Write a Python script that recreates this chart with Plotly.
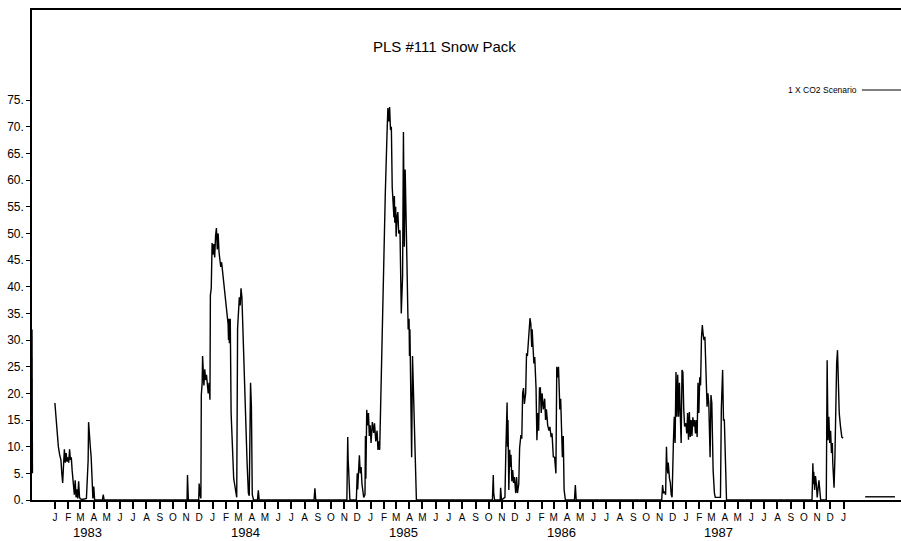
import plotly.graph_objects as go

# ---------------- data ----------------
lead_1982 = [("1982-11-09", 32), ("1982-11-10", 5), ("1982-12-15", None)]

season_1983 = [
    ("1983-01-01", 18.2), ("1983-01-03", 15.6), ("1983-01-06", 12.6), ("1983-01-09", 10),
    ("1983-01-12", 8.5), ("1983-01-15", 7.5), ("1983-01-17", 5), ("1983-01-19", 3.2),
    ("1983-01-21", 6.5), ("1983-01-23", 9.5), ("1983-01-25", 7), ("1983-01-27", 8.8),
    ("1983-01-29", 7.2), ("1983-01-31", 8), ("1983-02-02", 7), ("1983-02-04", 9.5),
    ("1983-02-06", 7.5), ("1983-02-08", 8), ("1983-02-10", 5.5), ("1983-02-13", 3),
    ("1983-02-15", 1), ("1983-02-17", 3.7), ("1983-02-19", 0.5), ("1983-02-21", 2),
    ("1983-02-23", 0.3), ("1983-02-25", 3.5), ("1983-02-27", 0.5), ("1983-03-01", 0.2),
    ("1983-03-06", 0.1), ("1983-03-15", 0.3), ("1983-03-17", 4.5), ("1983-03-19", 7.5),
    ("1983-03-20", 14.6), ("1983-03-22", 13), ("1983-03-24", 10), ("1983-03-26", 8),
    ("1983-03-28", 3), ("1983-03-30", 0.3), ("1983-04-01", 2.5), ("1983-04-03", 0),
    ("1983-04-21", 0), ("1983-04-23", 1), ("1983-04-25", 0), ("1983-10-31", 0),
]

season_1984 = [
    ("1983-11-03", 0), ("1983-11-04", 4.7), ("1983-11-05", 1), ("1983-11-06", 0),
    ("1983-11-30", 0), ("1983-12-01", 3.1), ("1983-12-03", 1), ("1983-12-05", 0.3),
    ("1983-12-06", 19.7), ("1983-12-08", 22), ("1983-12-09", 27), ("1983-12-10", 24),
    ("1983-12-12", 21.5), ("1983-12-14", 24.5), ("1983-12-16", 22.5), ("1983-12-18", 23.5),
    ("1983-12-20", 21), ("1983-12-22", 20), ("1983-12-24", 22), ("1983-12-26", 18.8),
    ("1983-12-27", 38.4), ("1983-12-29", 39.7), ("1983-12-31", 48.2), ("1984-01-02", 46),
    ("1984-01-04", 48), ("1984-01-06", 45.5), ("1984-01-08", 49.5), ("1984-01-10", 51),
    ("1984-01-12", 47), ("1984-01-14", 50), ("1984-01-16", 46.5), ("1984-01-18", 45),
    ("1984-01-20", 43.7), ("1984-01-22", 44.6), ("1984-01-25", 42), ("1984-01-28", 40),
    ("1984-01-31", 38), ("1984-02-02", 36), ("1984-02-04", 34.3), ("1984-02-06", 33),
    ("1984-02-07", 30), ("1984-02-08", 34), ("1984-02-09", 29.4), ("1984-02-10", 32),
    ("1984-02-11", 34), ("1984-02-13", 16.3), ("1984-02-15", 12), ("1984-02-17", 7),
    ("1984-02-19", 4), ("1984-02-21", 3), ("1984-02-24", 1.3), ("1984-02-26", 0.5),
    ("1984-02-28", 32.2), ("1984-03-01", 35), ("1984-03-03", 38), ("1984-03-05", 36.5),
    ("1984-03-07", 39.7), ("1984-03-09", 38), ("1984-03-11", 33), ("1984-03-13", 28),
    ("1984-03-15", 23), ("1984-03-19", 8.8), ("1984-03-21", 7), ("1984-03-24", 1.3),
    ("1984-03-26", 0.8), ("1984-03-29", 22), ("1984-03-30", 19), ("1984-03-31", 17.5),
    ("1984-04-02", 1), ("1984-04-05", 0), ("1984-04-14", 0), ("1984-04-16", 1.8),
    ("1984-04-18", 0), ("1984-08-23", 0), ("1984-08-25", 2.2), ("1984-08-27", 0),
    ("1984-11-07", 0),
]

season_1985 = [
    ("1984-11-09", 11.8), ("1984-11-10", 7.5), ("1984-11-11", 6), ("1984-11-12", 2),
    ("1984-11-14", 0), ("1984-11-29", 0), ("1984-12-01", 5), ("1984-12-02", 2),
    ("1984-12-04", 5), ("1984-12-06", 8.4), ("1984-12-08", 5), ("1984-12-10", 6.2),
    ("1984-12-12", 3), ("1984-12-14", 2), ("1984-12-16", 0.5), ("1984-12-19", 1),
    ("1984-12-20", 12), ("1984-12-21", 4), ("1984-12-23", 16.9), ("1984-12-25", 14),
    ("1984-12-27", 16.3), ("1984-12-29", 12), ("1984-12-31", 14), ("1985-01-02", 10.7),
    ("1985-01-05", 14.6), ("1985-01-08", 12.6), ("1985-01-10", 14.4), ("1985-01-13", 11),
    ("1985-01-16", 13), ("1985-01-18", 9.4), ("1985-01-20", 11), ("1985-01-22", 9.4),
    ("1985-01-24", 17.2), ("1985-01-27", 33), ("1985-01-31", 46.3), ("1985-02-04", 57.5),
    ("1985-02-08", 68.8), ("1985-02-10", 73.5), ("1985-02-12", 71), ("1985-02-14", 73.7),
    ("1985-02-16", 69.4), ("1985-02-18", 70), ("1985-02-20", 58.7), ("1985-02-22", 56),
    ("1985-02-24", 53), ("1985-02-25", 57), ("1985-02-26", 52), ("1985-02-28", 55),
    ("1985-03-01", 49.4), ("1985-03-03", 53), ("1985-03-05", 54), ("1985-03-07", 50),
    ("1985-03-10", 50.6), ("1985-03-13", 35), ("1985-03-16", 42), ("1985-03-18", 69),
    ("1985-03-19", 55), ("1985-03-20", 47.5), ("1985-03-22", 62), ("1985-03-24", 47.5),
    ("1985-03-26", 45), ("1985-03-28", 36), ("1985-03-29", 32), ("1985-03-31", 34),
    ("1985-04-01", 27), ("1985-04-02", 32), ("1985-04-04", 20), ("1985-04-06", 8),
    ("1985-04-08", 27), ("1985-04-11", 18), ("1985-04-13", 12), ("1985-04-15", 5),
    ("1985-04-17", 0), ("1985-10-10", 0),
]

season_1986 = [
    ("1985-10-12", 4.7), ("1985-10-13", 1.3), ("1985-10-15", 0), ("1985-10-28", 0),
    ("1985-10-29", 2.3), ("1985-10-31", 0), ("1985-11-08", 0.5), ("1985-11-10", 8.8),
    ("1985-11-11", 11), ("1985-11-13", 18.3), ("1985-11-14", 10), ("1985-11-15", 15),
    ("1985-11-17", 1.9), ("1985-11-19", 9.4), ("1985-11-20", 6.2), ("1985-11-22", 8.5),
    ("1985-11-24", 3.5), ("1985-11-26", 5.6), ("1985-11-28", 3.2), ("1985-11-30", 4.3),
    ("1985-12-03", 1.3), ("1985-12-05", 4.3), ("1985-12-07", 1.3), ("1985-12-10", 3),
    ("1985-12-12", 9.8), ("1985-12-15", 12.2), ("1985-12-17", 11.5), ("1985-12-19", 20),
    ("1985-12-21", 21), ("1985-12-23", 18), ("1985-12-26", 20), ("1985-12-28", 27.5),
    ("1985-12-30", 27), ("1986-01-01", 29.4), ("1986-01-03", 31), ("1986-01-05", 34.1),
    ("1986-01-07", 33), ("1986-01-09", 28.7), ("1986-01-10", 32), ("1986-01-12", 28.7),
    ("1986-01-14", 25.6), ("1986-01-16", 26.8), ("1986-01-19", 21), ("1986-01-21", 11.2),
    ("1986-01-23", 16.3), ("1986-01-25", 13), ("1986-01-27", 21), ("1986-01-29", 21),
    ("1986-01-31", 16.3), ("1986-02-02", 20), ("1986-02-05", 17), ("1986-02-08", 19),
    ("1986-02-10", 15), ("1986-02-12", 17), ("1986-02-15", 14), ("1986-02-18", 13),
    ("1986-02-20", 13.7), ("1986-02-23", 11.8), ("1986-02-25", 12.5), ("1986-02-28", 8.1),
    ("1986-03-03", 8), ("1986-03-06", 5), ("1986-03-08", 25), ("1986-03-10", 23),
    ("1986-03-12", 25), ("1986-03-14", 20), ("1986-03-15", 17), ("1986-03-17", 19),
    ("1986-03-19", 12), ("1986-03-21", 8), ("1986-03-23", 12), ("1986-03-25", 1.9),
    ("1986-03-28", 0), ("1986-04-18", 0), ("1986-04-20", 2.8), ("1986-04-22", 0),
    ("1986-11-06", 0),
]

season_1987 = [
    ("1986-11-08", 2.8), ("1986-11-10", 1.3), ("1986-11-13", 1.5), ("1986-11-15", 1),
    ("1986-11-17", 10), ("1986-11-18", 7), ("1986-11-20", 5), ("1986-11-21", 7),
    ("1986-11-24", 4), ("1986-11-26", 3.2), ("1986-11-28", 1), ("1986-11-30", 0.5),
    ("1986-12-03", 10.7), ("1986-12-05", 15.6), ("1986-12-07", 10.7), ("1986-12-09", 24),
    ("1986-12-11", 15.6), ("1986-12-13", 23.5), ("1986-12-15", 15.6), ("1986-12-17", 22),
    ("1986-12-19", 16), ("1986-12-21", 10.7), ("1986-12-23", 24.4), ("1986-12-25", 24),
    ("1986-12-27", 17), ("1986-12-29", 13.8), ("1987-01-01", 14.4), ("1987-01-03", 12.5),
    ("1987-01-05", 16.3), ("1987-01-07", 11.3), ("1987-01-09", 16.5), ("1987-01-11", 11.8),
    ("1987-01-13", 15), ("1987-01-15", 12), ("1987-01-17", 15.5), ("1987-01-19", 13.8),
    ("1987-01-21", 15), ("1987-01-23", 12.5), ("1987-01-25", 15), ("1987-01-27", 11.8),
    ("1987-01-29", 22), ("1987-01-31", 16.3), ("1987-02-02", 23), ("1987-02-04", 21.5),
    ("1987-02-06", 30.4), ("1987-02-08", 32.8), ("1987-02-10", 31), ("1987-02-12", 30),
    ("1987-02-14", 30.6), ("1987-02-16", 23.8), ("1987-02-19", 17.5), ("1987-02-21", 20),
    ("1987-02-23", 18), ("1987-02-26", 8), ("1987-02-28", 19.7), ("1987-03-02", 18.2),
    ("1987-03-05", 5.6), ("1987-03-08", 1.3), ("1987-03-10", 0.5), ("1987-03-22", 0.5),
    ("1987-03-24", 17), ("1987-03-27", 24.4), ("1987-03-29", 15), ("1987-03-31", 15),
    ("1987-04-03", 2.5), ("1987-04-05", 0), ("1987-10-20", 0),
]

season_1988 = [
    ("1987-10-22", 6.9), ("1987-10-23", 3), ("1987-10-24", 5.3), ("1987-10-26", 1.9),
    ("1987-10-28", 4.5), ("1987-10-30", 3), ("1987-11-01", 0.5), ("1987-11-05", 3.7),
    ("1987-11-07", 1.3), ("1987-11-09", 0), ("1987-11-22", 0), ("1987-11-24", 26.2),
    ("1987-11-26", 11.2), ("1987-11-28", 15.6), ("1987-11-30", 10.7), ("1987-12-02", 13),
    ("1987-12-04", 8.8), ("1987-12-06", 10.7), ("1987-12-07", 7), ("1987-12-09", 5),
    ("1987-12-10", 2.3), ("1987-12-12", 8), ("1987-12-14", 23), ("1987-12-16", 25.6),
    ("1987-12-18", 28.1), ("1987-12-20", 20.6), ("1987-12-22", 16.3), ("1987-12-25", 13.7),
    ("1987-12-28", 11.8), ("1987-12-31", 11.6), ("1988-01-20", None),
]

tail_1988 = [("1988-02-20", 0.6), ("1988-04-29", 0.6)]

month_letters = ["J", "F", "M", "A", "M", "J", "J", "A", "S", "O", "N", "D"]
years = [1983, 1984, 1985, 1986, 1987, 1988]
year_labels = ["1983", "1984", "1985", "1986", "1987"]
y_ticks = [0, 5, 10, 15, 20, 25, 30, 35, 40, 45, 50, 55, 60, 65, 70, 75]
series_name = "1 X CO2 Scenario"
title_text = "PLS #111 Snow Pack"

# ---------------- build ----------------
records = lead_1982 + season_1983 + season_1984 + season_1985 + season_1986 + season_1987 + season_1988 + tail_1988
dates = [r[0] for r in records]
snow = [r[1] for r in records]

tickvals, ticktext = [], []
for yr in years:
    for m in range(12):
        if yr == 1988 and m > 0:
            break
        tickvals.append(f"{yr}-{m + 1:02d}-01")
        ticktext.append(month_letters[m])

FONT = "Liberation Sans, Arial, Helvetica, sans-serif"

fig = go.Figure()
fig.add_trace(go.Scatter(
    x=dates, y=snow, mode="lines", name=series_name,
    line=dict(color="black", width=1.4), connectgaps=False, showlegend=False,
))

fig.update_layout(
    width=901, height=541,
    margin=dict(l=32, r=0, t=10, b=41),
    paper_bgcolor="white", plot_bgcolor="white",
    font=dict(family=FONT, color="black"),
    showlegend=False,
)

fig.update_xaxes(
    type="date", range=["1982-11-09", "1988-05-13"],
    tickmode="array", tickvals=tickvals, ticktext=ticktext,
    ticks="outside", ticklen=7, tickwidth=2, tickcolor="black",
    tickfont=dict(size=10, family=FONT, color="black"),
    showline=True, linecolor="black", linewidth=1.5, mirror=True,
    showgrid=False, zeroline=False,
)
fig.update_yaxes(
    range=[0, 91.9],
    tickmode="array", tickvals=y_ticks, ticktext=[f"{v}." for v in y_ticks],
    ticks="outside", ticklen=4, tickwidth=1, tickcolor="black",
    tickfont=dict(size=12, family=FONT, color="black"),
    showline=True, linecolor="black", linewidth=1.5, mirror=False,
    showgrid=False, zeroline=False,
)

# year labels under month letters
for yl in year_labels:
    fig.add_annotation(x=f"{yl}-03-18", y=-0.067, xref="x", yref="paper",
                       text=yl, showarrow=False, font=dict(size=13, family=FONT),
                       xanchor="center", yanchor="middle")

# title
fig.add_annotation(x=0.475, y=0.9265, xref="paper", yref="paper", text=title_text,
                   showarrow=False, font=dict(size=15, family=FONT),
                   xanchor="center", yanchor="middle")

# legend (text on the left, line sample on the right)
fig.add_annotation(x=0.9517, y=0.8367, xref="paper", yref="paper", text=series_name,
                   showarrow=False, font=dict(size=8.5, family=FONT),
                   xanchor="right", yanchor="middle")
fig.add_shape(type="line", xref="paper", yref="paper", x0=0.955, x1=1.0,
              y0=0.8367, y1=0.8367, line=dict(color="black", width=1.2))

fig.write_html("out.html")
